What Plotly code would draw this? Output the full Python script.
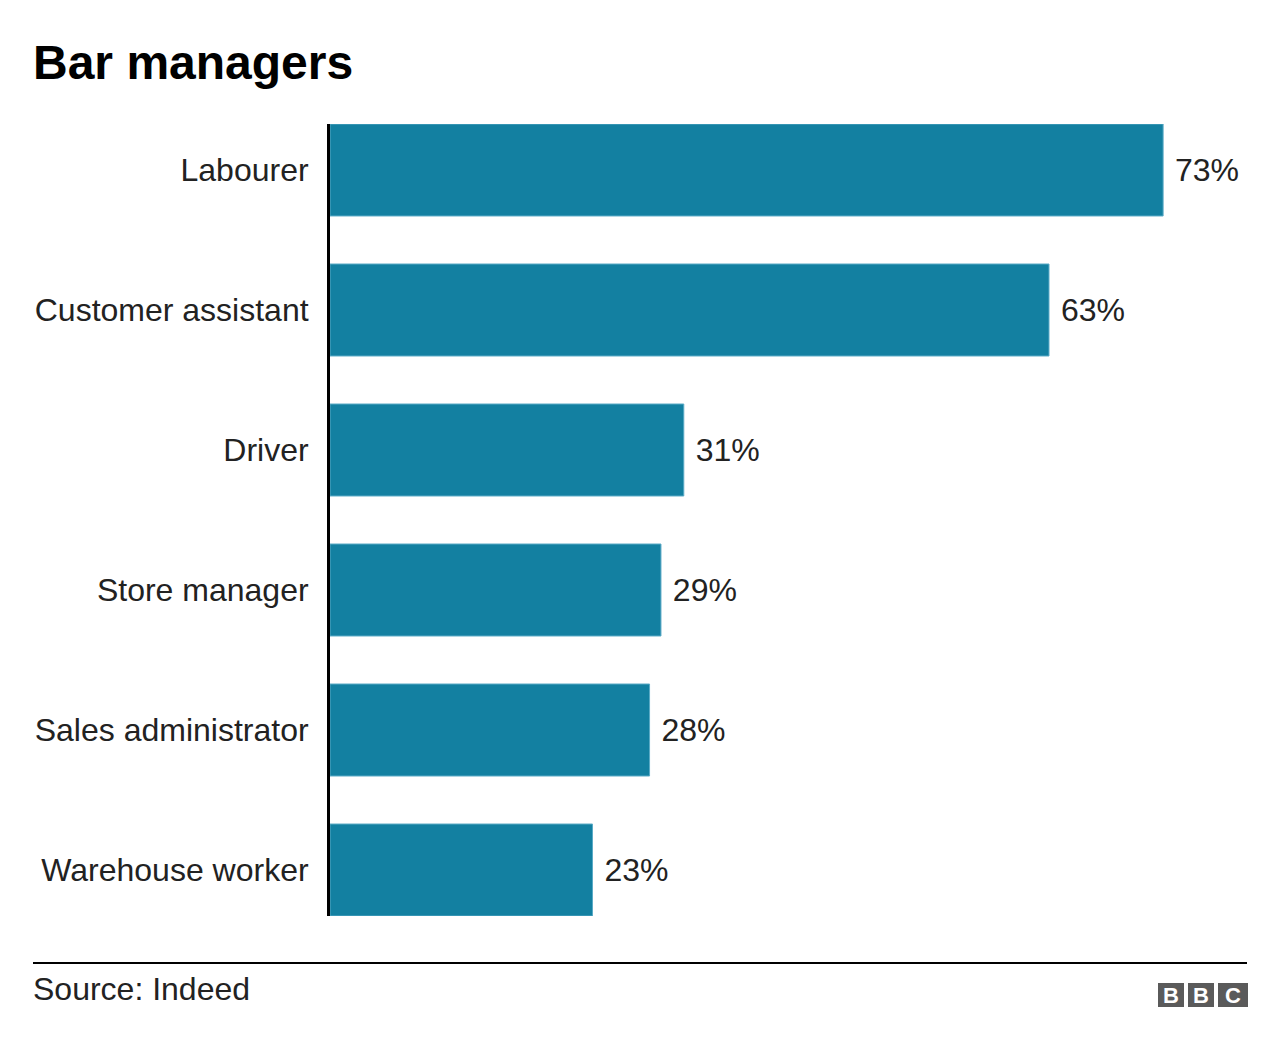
import plotly.graph_objects as go

categories = ["Labourer", "Customer assistant", "Driver", "Store manager",
              "Sales administrator", "Warehouse worker"]
values = [73, 63, 31, 29, 28, 23]
value_labels = ["73%", "63%", "31%", "29%", "28%", "23%"]
title_text = "Bar managers"
source_text = "Source: Indeed"

OFF = 8  # page body margin
W, H = 1280 - OFF, 1050 - OFF
ML, MR, MT, MB = 330 - OFF, 37, 124 - OFF, 134
PW, PH = W - ML - MR, H - MT - MB


def px(x):
    return (x - OFF - ML) / PW


def py(y):
    return (H - MB - (y - OFF)) / PH


BAR = "#1380A1"
FONT = "Liberation Sans, Arial, Helvetica, sans-serif"

fig = go.Figure()
fig.add_trace(go.Bar(
    x=values, y=categories, orientation="h",
    marker=dict(color=BAR, line=dict(color="#5aaac6", width=1)),
    text=[" " + t for t in value_labels], textposition="outside",
    textfont=dict(family=FONT, size=32, color="#222222"),
    cliponaxis=False, hoverinfo="skip",
))

half = (1 - 0.343) / 2
fig.update_layout(
    width=W, height=H,
    margin=dict(l=ML, r=MR, t=MT, b=MB),
    paper_bgcolor="white", plot_bgcolor="white",
    bargap=0.343, showlegend=False,
    font=dict(family=FONT, color="#222222"),
    xaxis=dict(range=[0, 80], visible=False, fixedrange=True),
    yaxis=dict(
        categoryorder="array", categoryarray=categories,
        range=[len(categories) - 1 + half, -half],
        showline=True, linecolor="black", linewidth=3,
        showgrid=False, zeroline=False, ticks="",
        tickfont=dict(family=FONT, size=32, color="#222222"),
        ticklabelstandoff=12,
    ),
)

# Title
fig.add_annotation(text="<b>" + title_text + "</b>", xref="paper", yref="paper",
                   x=px(31), y=py(62), xanchor="left", yanchor="middle",
                   showarrow=False, font=dict(family=FONT, size=48, color="black"))
# Footer line
fig.add_shape(type="line", xref="paper", yref="paper",
              x0=px(33), x1=px(1247), y0=py(963), y1=py(963),
              line=dict(color="black", width=2))
# Source
fig.add_annotation(text=source_text, xref="paper", yref="paper",
                   x=px(31), y=py(989), xanchor="left", yanchor="middle",
                   showarrow=False, font=dict(family=FONT, size=32, color="#222222"))
# BBC logo
boxes = [(1158, 1184, "B"), (1188, 1214, "B"), (1218, 1248, "C")]
for x0, x1, letter in boxes:
    fig.add_shape(type="rect", xref="paper", yref="paper",
                  x0=px(x0), x1=px(x1), y0=py(1007), y1=py(983),
                  fillcolor="#5a5a5a", line=dict(width=0))
    fig.add_annotation(text="<b>" + letter + "</b>", xref="paper", yref="paper",
                       x=px((x0 + x1) / 2), y=py(995.5), xanchor="center", yanchor="middle",
                       showarrow=False, font=dict(family=FONT, size=22, color="white"))

fig.write_html("out.html")
